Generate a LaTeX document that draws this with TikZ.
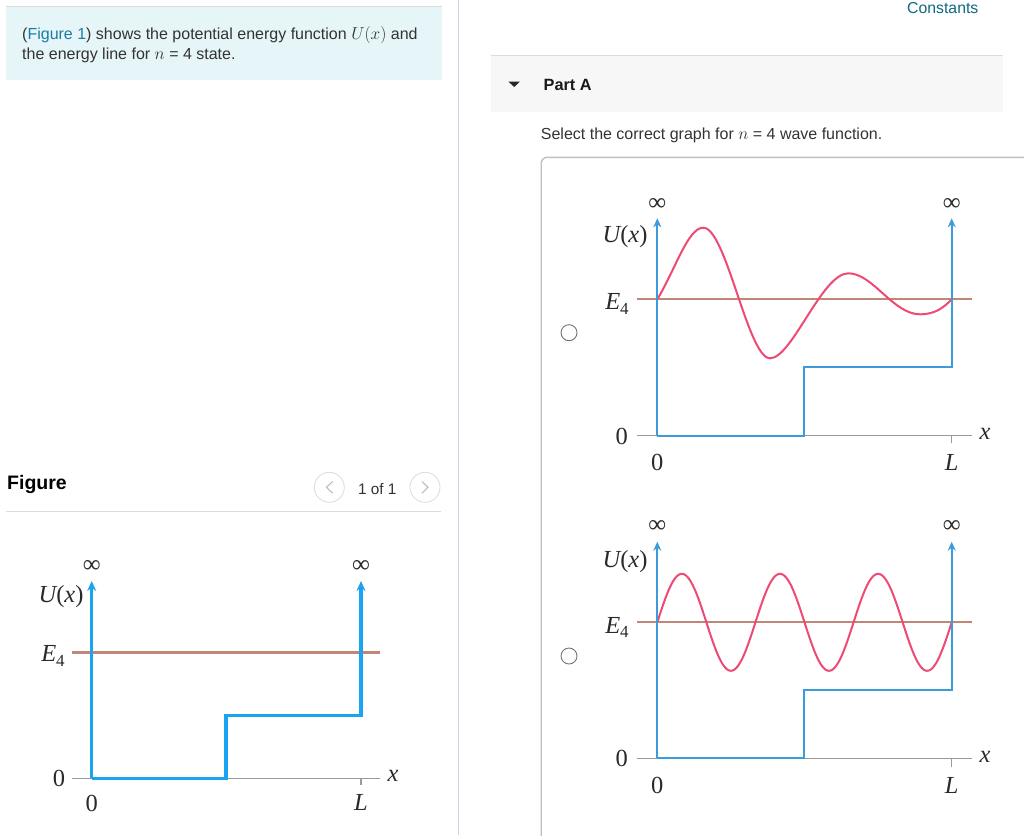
\documentclass[tikz,border=0pt]{standalone}
\usepackage{fontspec}
\setmainfont{Liberation Sans}
\newfontfamily\figfont{Liberation Serif}
\usetikzlibrary{arrows.meta}
\definecolor{linkblue}{HTML}{1C7CA5}
\definecolor{consteal}{HTML}{0E6A80}
\definecolor{boxfill}{HTML}{E6F5F7}
\definecolor{barfill}{HTML}{F7F7F7}
\definecolor{rulegray}{HTML}{DCDCDC}
\definecolor{divider}{HTML}{CBD5E3}
\definecolor{potblue}{HTML}{1AA3EE}
\definecolor{potbluetwo}{HTML}{3C9BDB}
\definecolor{eline}{HTML}{C08874}
\definecolor{wavepink}{HTML}{EE4A74}
\definecolor{txt}{HTML}{333333}
\definecolor{axgray}{HTML}{9A9A9A}
\definecolor{labgray}{HTML}{2A2A2A}
\tikzset{
  lab/.style={font=\figfont\fontsize{24.5}{28}\selectfont, text=labgray, inner sep=0pt},
  inf/.style={font=\figfont\fontsize{25}{25}\selectfont, text=labgray, inner sep=0pt},
  ui/.style={font=\fontsize{16}{19}\selectfont, text=txt, inner sep=0pt, anchor=base west},
  axisln/.style={draw=axgray, line width=1.3pt},
  potL/.style={draw=potblue, line width=3.5pt},
  potR/.style={draw=potbluetwo, line width=2pt},
  elnL/.style={draw=eline, line width=3pt},
  elnR/.style={draw=eline, line width=2.2pt},
  wave/.style={draw=wavepink, line width=2pt},
  tipL/.style={-{Stealth[length=10pt,width=9pt]}},
  tipR/.style={-{Stealth[length=9pt,width=8pt]}},
  radio/.style={circle, draw=black!55, line width=0.9pt, minimum size=16pt, inner sep=0pt},
  navbtn/.style={circle, draw=rulegray, line width=0.8pt, minimum size=30pt, inner sep=0pt}
}
\newcommand{\Efour}{{\itshape E}\raisebox{-4.5pt}{\fontsize{17}{17}\selectfont 4}}
\newcommand{\Ux}{{\itshape U}({\itshape x})}
\begin{document}
\begin{tikzpicture}[x=1pt,y=-1pt]
\useasboundingbox (0,0) rectangle (1024,835);
\clip (0,0) rectangle (1024,835);
\fill[white] (0,0) rectangle (1024,835);

% ---------- left column ----------
\fill[boxfill] (6,6) rectangle (442,80);
\draw[rulegray, line width=1pt] (6,6) -- (442,6);
\node[ui] (intro1) at (22,39.5) {(\textcolor{linkblue}{Figure 1}) shows the potential energy function $U(x)$ and};
\node[ui] (intro2) at (22,59.5) {the energy line for $n$ = 4 state.};

\draw[divider, line width=1.6pt] (458.5,0) -- (458.5,835);

\node[ui, font=\bfseries\fontsize{19.5}{22}\selectfont, text=black] (figtitle) at (7,489.5) {Figure};
\node[navbtn] (prev) at (329.3,487.3) {};
\draw[black!30, line width=0.9pt] (332.5,481.5) -- (326.5,487.3) -- (332.5,493.1);
\node[ui, font=\fontsize{15.3}{18}\selectfont] (pager) at (358,494.5) {1 of 1};
\node[navbtn] (next) at (425,487.3) {};
\draw[black!30, line width=0.9pt] (422,481.5) -- (428,487.3) -- (422,493.1);
\draw[rulegray, line width=1pt] (6,511.7) -- (441,511.7);

% left figure
\coordinate (a0) at (91.7,778.3);
\coordinate (aT) at (91.7,581);
\coordinate (aS) at (226,778.3);
\coordinate (aS2) at (226,715.7);
\coordinate (aR) at (361,715.7);
\coordinate (aRT) at (361,581);
\coordinate (axL) at (72,778.3);
\coordinate (axR) at (380,778.3);
\coordinate (eL) at (72,652.7);
\coordinate (eR) at (380,652.7);
\draw[axisln] (axL) -- (axR);
\draw[axisln] (361,778.3) -- (361,785);
\draw[elnL] (eL) -- (eR);
\draw[potL, tipL] (a0) -- (aT);
\draw[potL, tipL] (a0) -- (aS) -- (aS2) -- (aR) -- (aRT);
\node[inf] (infA1) at (91.7,566) {∞};
\node[inf] (infA2) at (361,566) {∞};
\node[lab] (uxA) at (61,597) {\Ux};
\node[lab] (eA) at (53,656) {\Efour};
\node[lab] (zA1) at (59,778) {0};
\node[lab] (xA) at (393,776) {\itshape x};
\node[lab] (zA2) at (91.7,803) {0};
\node[lab] (lA) at (361,802) {\itshape L};

% ---------- right column ----------
\node[ui, font=\fontsize{15.8}{18}\selectfont, text=consteal] (constants) at (907,13.5) {Constants};
\fill[barfill] (490.7,55) rectangle (1002.7,111.7);
\draw[rulegray, line width=1pt] (490.7,55) -- (1002.7,55);
\fill[black!85] (508.3,81.5) -- (520,81.5) -- (514.2,87) -- cycle;
\node[ui, font=\bfseries\fontsize{16.3}{19}\selectfont, text=black!90] (parta) at (543.5,90.5) {Part A};
\node[ui] (question) at (540.7,139.5) {Select the correct graph for $n$ = 4 wave function.};
\draw[black!25, line width=1.4pt, rounded corners=6pt] (541.2,900) -- (541.2,157.3) -- (1100,157.3);

\node[radio] (r1) at (569,332.7) {};
\node[radio] (r2) at (569,656) {};

% option 1
\coordinate (b0) at (657.3,435.7);
\coordinate (bT) at (657.3,218.3);
\coordinate (bS) at (804.3,435.7);
\coordinate (bS2) at (804.3,367.3);
\coordinate (bR) at (951.7,367.3);
\coordinate (bRT) at (951.7,218.3);
\coordinate (wS) at (657.3,299.3);
\coordinate (wP1) at (703.3,227.7);
\coordinate (wT1) at (770,358.3);
\coordinate (wP2) at (848.3,273.3);
\coordinate (wT2) at (920,314.3);
\coordinate (wE) at (951.7,299.3);
\draw[axisln, line width=1.1pt] (636.7,435.7) -- (972.3,435.7);
\draw[axisln, line width=1.1pt] (951.7,435.7) -- (951.7,443);
\draw[elnR] (636.7,299.3) -- (972.3,299.3);
\draw[wave] (wS) .. controls (676,268) and (688,227.7) .. (wP1)
  .. controls (726,227.7) and (748,358.3) .. (wT1)
  .. controls (792,358.3) and (822,273.3) .. (wP2)
  .. controls (873,273.3) and (893,314.3) .. (wT2)
  .. controls (936,314.3) and (944,307) .. (wE);
\draw[potR, tipR] (b0) -- (bT);
\draw[potR, tipR] (b0) -- (bS) -- (bS2) -- (bR) -- (bRT);
\node[inf] (infB1) at (657.3,204.3) {∞};
\node[inf] (infB2) at (951.7,204.3) {∞};
\node[lab] (uxB) at (625,237) {\Ux};
\node[lab] (eB) at (617,304) {\Efour};
\node[lab] (zB1) at (621.7,436) {0};
\node[lab] (xB) at (985,434) {\itshape x};
\node[lab] (zB2) at (657.3,462) {0};
\node[lab] (lB) at (951.7,462) {\itshape L};

% option 2
\coordinate (c0) at (657.3,758.3);
\coordinate (cT) at (657.3,541.7);
\coordinate (cS) at (804.3,758.3);
\coordinate (cS2) at (804.3,690);
\coordinate (cR) at (951.7,690);
\coordinate (cRT) at (951.7,541.7);
\draw[axisln, line width=1.1pt] (636.7,758.3) -- (972.3,758.3);
\draw[axisln, line width=1.1pt] (951.7,758.3) -- (951.7,766.7);
\draw[elnR] (636.7,622.3) -- (972.3,622.3);
\draw[wave] plot[domain=0:294.4, samples=200, smooth] ({657.3+\x},{622.3-48.5*sin(3.6685*\x)});
\draw[potR, tipR] (c0) -- (cT);
\draw[potR, tipR] (c0) -- (cS) -- (cS2) -- (cR) -- (cRT);
\node[inf] (infC1) at (657.3,526.7) {∞};
\node[inf] (infC2) at (951.7,526.7) {∞};
\node[lab] (uxC) at (625,561.7) {\Ux};
\node[lab] (eC) at (617,627.5) {\Efour};
\node[lab] (zC1) at (621.7,758.3) {0};
\node[lab] (xC) at (985,756.7) {\itshape x};
\node[lab] (zC2) at (657.3,785) {0};
\node[lab] (lC) at (951.7,785) {\itshape L};
\end{tikzpicture}
\end{document}
